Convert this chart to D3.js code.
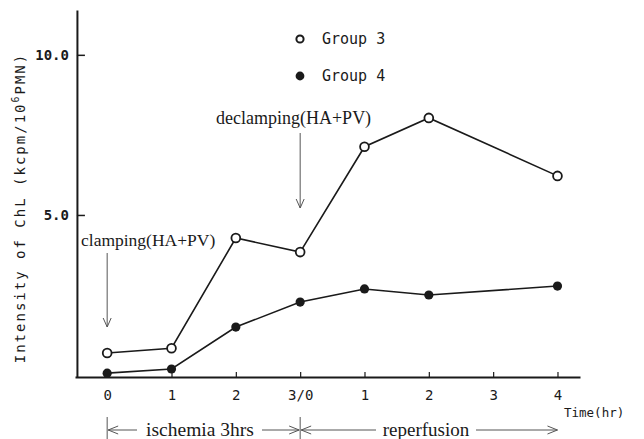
<!DOCTYPE html>
<html>
<head>
<meta charset="utf-8">
<script src="https://cdn.jsdelivr.net/npm/d3@7"></script>
<style>
  body { margin: 0; background: #fff; }
  svg { display: block; }
  .mono { font-family: "DejaVu Sans Mono", "Liberation Mono", monospace; }
  .serif { font-family: "Liberation Serif", "DejaVu Serif", serif; }
</style>
</head>
<body>
<div id="root"></div>
<script>
// time points: 0..3 = ischemia hours, 3..7 = reperfusion hours
const steps = [0, 1, 2, 3, 4, 5, 7]
const tickLabels = ["0", "1", "2", "3/0", "1", "2", "3", "4"]
const group3 = [0.69, 0.84, 4.28, 3.84, 7.13, 8.03, 6.22]
const group4 = [0.06, 0.19, 1.5, 2.28, 2.69, 2.5, 2.78]
const yTicks = [5, 10]

const W = 644, H = 439
const svg = d3.select("#root").append("svg").attr("width", W).attr("height", H)

const x = d3.scaleLinear().domain([-0.5, 7.35]).range([75, 580])
const y = d3.scaleLinear().domain([-0.06, 11.4]).range([377, 10])
const ink = "#1a1a1a"

// x axis
const xAxis = svg.append("g")
    .attr("transform", `translate(0,${y(-0.06)})`)
    .call(d3.axisBottom(x).tickValues(d3.range(8)).tickFormat((d, i) => tickLabels[i])
        .tickSize(-5).tickSizeOuter(0).tickPadding(13))
xAxis.select(".domain").attr("stroke", ink).attr("stroke-width", 2)
xAxis.selectAll(".tick line").attr("stroke", ink).attr("stroke-width", 1.2)
xAxis.selectAll("text").attr("class", "mono").attr("font-size", 14).attr("fill", ink)

// y axis
const yAxis = svg.append("g")
    .attr("transform", `translate(${x(-0.47)},0)`)
    .call(d3.axisLeft(y).tickValues(yTicks).tickFormat(d3.format(".1f"))
        .tickSize(-8).tickSizeOuter(0).tickPadding(8))
yAxis.select(".domain").attr("stroke", ink).attr("stroke-width", 2)
yAxis.selectAll(".tick line").attr("stroke", ink).attr("stroke-width", 1.5)
yAxis.selectAll("text").attr("class", "mono").attr("font-size", 14).attr("fill", ink)
    .attr("font-weight", "bold")

// y label
const yl = svg.append("text").attr("class", "mono")
    .attr("transform", "translate(25,208) rotate(-90)")
    .attr("text-anchor", "middle").attr("font-size", 14).attr("letter-spacing", 2)
    .attr("fill", ink)
yl.append("tspan").text("Intensity of ChL (kcpm/10")
yl.append("tspan").text("6").attr("font-size", 10).attr("dy", -6)
yl.append("tspan").text("PMN)").attr("dy", 6)

// lines
const line = d3.line().x((d, i) => x(steps[i])).y(d => y(d))
;[group4, group3].forEach(s => {
    svg.append("path").datum(s).attr("d", line)
        .attr("fill", "none").attr("stroke", ink).attr("stroke-width", 1.6)
})
svg.selectAll(".g4").data(group4).join("circle")
    .attr("cx", (d, i) => x(steps[i])).attr("cy", d => y(d)).attr("r", 4.6)
    .attr("fill", ink)
svg.selectAll(".g3").data(group3).join("circle")
    .attr("cx", (d, i) => x(steps[i])).attr("cy", d => y(d)).attr("r", 4.4)
    .attr("fill", "#fff").attr("stroke", ink).attr("stroke-width", 1.8)

// legend
const legend = [{name: "Group 3", open: true, cy: 39}, {name: "Group 4", open: false, cy: 76}]
legend.forEach(d => {
    svg.append("circle").attr("cx", 300).attr("cy", d.cy).attr("r", d.open ? 3.6 : 4.4)
        .attr("fill", d.open ? "#fff" : ink).attr("stroke", ink).attr("stroke-width", d.open ? 2 : 0)
    svg.append("text").attr("class", "mono").attr("x", 322).attr("y", d.cy + 5)
        .attr("font-size", 15).attr("fill", ink).text(d.name)
})

// annotation arrows
const grey = "#555"
function vArrow (cx, y1, y2) {
    svg.append("line").attr("x1", cx).attr("x2", cx).attr("y1", y1).attr("y2", y2)
        .attr("stroke", grey).attr("stroke-width", 1)
    svg.append("path").attr("d", `M${cx - 4},${y2 - 9}L${cx},${y2}L${cx + 4},${y2 - 9}`)
        .attr("fill", "none").attr("stroke", grey).attr("stroke-width", 1)
}
function hArrow (x1, x2, yy) {
    svg.append("line").attr("x1", x1).attr("x2", x2).attr("y1", yy).attr("y2", yy)
        .attr("stroke", grey).attr("stroke-width", 1)
    const dir = x2 > x1 ? -1 : 1
    svg.append("path").attr("d", `M${x2 + dir * 10},${yy - 4}L${x2},${yy}L${x2 + dir * 10},${yy + 4}`)
        .attr("fill", "none").attr("stroke", grey).attr("stroke-width", 1)
}

svg.append("text").attr("class", "serif").attr("x", 81).attr("y", 246)
    .attr("font-size", 17.5).attr("fill", ink).text("clamping(HA+PV)")
vArrow(x(0), 253, 327)
svg.append("text").attr("class", "serif").attr("x", 216).attr("y", 124)
    .attr("font-size", 18).attr("fill", ink).text("declamping(HA+PV)")
vArrow(x(3), 133, 208)

// time label
svg.append("text").attr("class", "mono").attr("x", 564).attr("y", 417)
    .attr("font-size", 12.5).attr("fill", ink).text("Time(hr)")

// period brackets
const by = 430
;[0, 3].forEach(t => {
    svg.append("line").attr("x1", x(t)).attr("x2", x(t)).attr("y1", 417).attr("y2", 439)
        .attr("stroke", grey).attr("stroke-width", 1)
})
hArrow(137, x(0) + 1, by)
hArrow(262, x(3) - 1, by)
hArrow(376, x(3) + 1, by)
hArrow(476, x(7), by)
svg.append("text").attr("class", "serif").attr("x", 200).attr("y", by + 6)
    .attr("text-anchor", "middle").attr("font-size", 19.5).attr("fill", ink).text("ischemia 3hrs")
svg.append("text").attr("class", "serif").attr("x", 426).attr("y", by + 6)
    .attr("text-anchor", "middle").attr("font-size", 19).attr("fill", ink).text("reperfusion")
</script>
</body>
</html>
